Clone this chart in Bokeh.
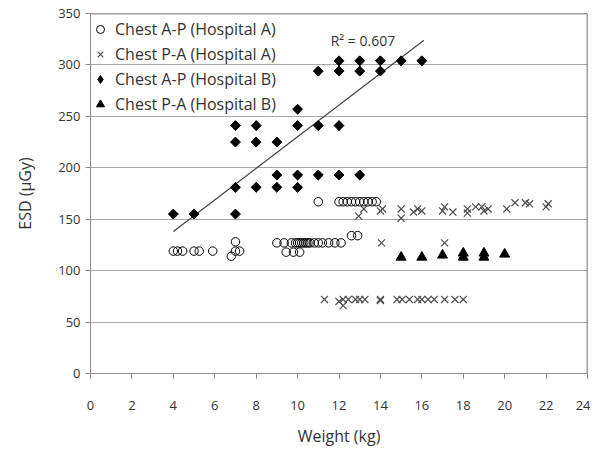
from bokeh.plotting import figure
from bokeh.models import Legend, LegendItem, Span, Label, FixedTicker
from bokeh.embed import file_html
from bokeh.resources import INLINE

# Chest A-P (Hospital A) - open circles
ap_a_weight = [4.0, 4.2, 4.45, 5.0, 5.25, 5.9, 6.8, 7.0, 7.0, 7.2,
               9.0, 9.35, 9.7, 9.9, 10.0, 10.1, 10.2, 10.3, 10.4, 10.5, 10.6, 10.8,
               11.0, 11.2, 11.5, 11.8, 12.1,
               9.45, 9.8, 10.1,
               12.6, 12.9,
               11.0, 12.0, 12.2, 12.4, 12.6, 12.8, 13.0, 13.2, 13.4, 13.6, 13.8]
ap_a_esd = [119, 119, 119, 119, 119, 119, 114, 119, 128, 119,
            127, 127, 127, 127, 127, 127, 127, 127, 127, 127, 127, 127,
            127, 127, 127, 127, 127,
            118, 118, 118,
            134, 134,
            167, 167, 167, 167, 167, 167, 167, 167, 167, 167, 167]

# Chest P-A (Hospital A) - crosses
pa_a_weight = [12.95, 13.2, 14.0, 14.1, 15.0, 15.0, 15.6, 15.8, 16.0, 17.0, 17.1, 17.5,
               18.2, 18.2, 18.6, 18.9, 19.0, 19.2, 20.1, 20.5, 21.0, 21.2, 22.0, 22.1,
               14.05, 17.1,
               11.3, 12.0, 12.2, 12.2, 12.45, 12.8, 13.0, 13.25, 14.0, 14.0,
               14.8, 15.05, 15.4, 15.8, 16.0, 16.3, 16.6, 17.1, 17.6, 18.0]
pa_a_esd = [153, 160, 158, 160, 160, 151, 157, 160, 158, 158, 162, 157,
            160, 156, 162, 162, 158, 160, 160, 166, 166, 165, 162, 165,
            127, 127,
            72, 70, 72, 66, 72, 72, 72, 72, 72, 71,
            72, 72, 72, 72, 72, 72, 72, 72, 72, 72]

# Chest A-P (Hospital B) - filled diamonds
ap_b_weight = [4, 5, 7, 7, 7, 7, 8, 8, 8, 9, 9, 9, 10, 10, 10, 10,
               11, 11, 11, 12, 12, 12, 12, 13, 13, 13, 14, 14, 15, 16]
ap_b_esd = [155, 155, 155, 181, 225, 241, 181, 225, 241, 181, 193, 225, 181, 193, 241, 257,
            193, 241, 294, 193, 241, 294, 304, 193, 294, 304, 294, 304, 304, 304]

# Chest P-A (Hospital B) - filled triangles
pa_b_weight = [15, 16, 17, 18, 18, 19, 19, 20]
pa_b_esd = [113, 113, 115, 113, 117, 113, 117, 116]

# Linear trend line (Hospital B, A-P)
trend_weight = [4.0, 16.1]
trend_esd = [138, 324]
r_squared = 0.607

x_ticks = list(range(0, 25, 2))
y_ticks = list(range(0, 351, 50))

FONT = "Open Sans"
TXT = "#333333"

p = figure(width=590, height=451, x_range=(0, 24), y_range=(0, 350),
           output_backend="svg", toolbar_location=None,
           min_border_left=90, min_border_right=3, min_border_top=13, min_border_bottom=78)

p.xgrid.grid_line_color = None
p.ygrid.grid_line_color = "#a6a6a6"
p.ygrid.grid_line_width = 1
p.outline_line_color = None
p.background_fill_color = "white"

for ax in (p.xaxis[0], p.yaxis[0]):
    ax.axis_line_color = "#8c8c8c"
    ax.major_tick_line_color = "#8c8c8c"
    ax.major_tick_out = 5
    ax.major_tick_in = 0
    ax.minor_tick_line_color = None
    ax.major_label_text_font = FONT
    ax.major_label_text_font_size = "13px"
    ax.major_label_text_color = TXT
    ax.axis_label_text_font = FONT
    ax.axis_label_text_font_size = "16px"
    ax.axis_label_text_font_style = "normal"
    ax.axis_label_text_color = TXT

p.xaxis.ticker = FixedTicker(ticks=x_ticks)
p.yaxis.ticker = FixedTicker(ticks=y_ticks)
p.xaxis.axis_label = "Weight (kg)"
p.yaxis.axis_label = "ESD (\u00b5Gy)"
p.xaxis.major_label_standoff = 22
p.xaxis.axis_label_standoff = 12
p.yaxis.major_label_standoff = 5
p.yaxis.axis_label_standoff = 19

p.add_layout(Span(location=350, dimension="width", line_color="#404040", line_width=1.5))
p.add_layout(Span(location=24, dimension="height", line_color="#404040", line_width=1.5))

p.line(trend_weight, trend_esd, line_color="#404040", line_width=1.2)

r1 = p.scatter(ap_a_weight, ap_a_esd, marker="circle", size=8.5,
               fill_color=None, line_color="black", line_width=1)
r2 = p.scatter(pa_a_weight, pa_a_esd, marker="x", size=10,
               line_color="#4d4d4d", line_width=1.2)
# diamond swatch for the legend, hidden underneath the rotated squares
r3_key = p.scatter(ap_b_weight, ap_b_esd, marker="diamond", size=9.5,
                   fill_color="black", line_color="black")
r3 = p.scatter(ap_b_weight, ap_b_esd, marker="square", angle=0.785398, size=7,
               fill_color="black", line_color="black")
r4 = p.scatter(pa_b_weight, pa_b_esd, marker="triangle", size=10,
               fill_color="black", line_color="black")

p.add_layout(Label(x=11.6, y=324, text=f"R\u00b2 = {r_squared}", text_font=FONT,
                   text_font_size="14px", text_color=TXT, text_baseline="middle"))

legend = Legend(items=[
    LegendItem(label="Chest A-P (Hospital A)", renderers=[r1]),
    LegendItem(label="Chest P-A (Hospital A)", renderers=[r2]),
    LegendItem(label="Chest A-P (Hospital B)", renderers=[r3_key]),
    LegendItem(label="Chest P-A (Hospital B)", renderers=[r4]),
], location=(0, 257))
legend.margin = 0
legend.padding = 0
legend.spacing = 1
legend.glyph_width = 20
legend.glyph_height = 24
legend.label_height = 24
legend.label_standoff = 5
legend.label_text_font = FONT
legend.label_text_font_size = "16px"
legend.label_text_color = TXT
legend.background_fill_alpha = 0
legend.border_line_color = None
p.add_layout(legend)

open("out.html", "w").write(file_html(p, INLINE))
